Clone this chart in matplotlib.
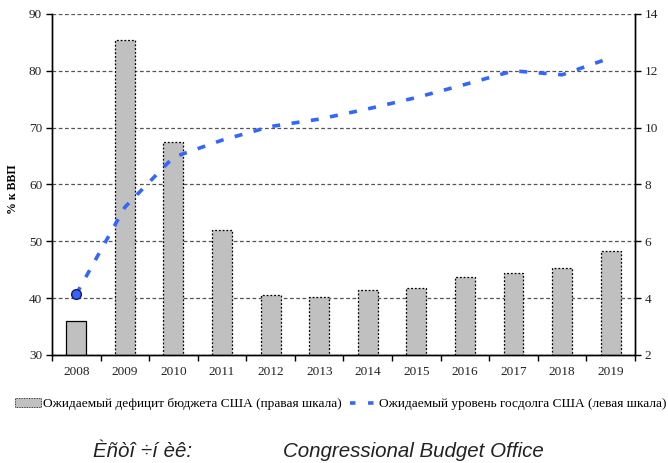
import matplotlib
matplotlib.use("Agg")
import matplotlib.pyplot as plt
from matplotlib.patches import Patch
from matplotlib.lines import Line2D
import numpy as np

years = ["2008", "2009", "2010", "2011", "2012", "2013", "2014", "2015",
         "2016", "2017", "2018", "2019"]
deficit = [3.2, 13.1, 9.5, 6.4, 4.1, 4.05, 4.3, 4.35, 4.75, 4.9, 5.05, 5.65]
debt = [40.7, 56.0, 64.8, 67.8, 70.2, 71.5, 73.3, 75.3, 77.6, 80.0, 79.3, 82.3]

left_ticks = [30, 40, 50, 60, 70, 80, 90]
right_ticks = [2, 4, 6, 8, 10, 12, 14]

serif = "Liberation Serif"
sans = "Liberation Sans"
line_color = "#3366FF"
line_style = (0, (2.2, 3.2))

fig = plt.figure(figsize=(6.68, 4.63), dpi=100)
ax = fig.add_axes([0.0778, 0.2333, 0.8728, 0.7365])
ax2 = ax.twinx()
ax2.set_zorder(ax.get_zorder() - 1)
ax.patch.set_visible(False)

x = np.arange(len(years))
bars = ax2.bar(x, deficit, width=0.41, color="#C0C0C0", edgecolor="black",
               linewidth=0.9, linestyle=(0, (1.5, 1.5)), zorder=2)
bars[0].set_linestyle("-")

ax2.set_ylim(2, 14)
ax2.set_yticks(right_ticks)
ax2.yaxis.grid(True, color="#555555", linestyle=(0, (3, 2)), linewidth=0.9, zorder=0)
ax2.set_axisbelow(True)

ax.plot(x, debt, color=line_color, linewidth=2.6, linestyle=line_style, zorder=3)
ax.plot(x[:1], debt[:1], marker="o", markersize=7, markerfacecolor=line_color,
        markeredgecolor="#1a1a60", linestyle="none", zorder=4)

ax.set_ylim(30, 90)
ax.set_yticks(left_ticks)
ax.set_xlim(-0.5, len(years) - 0.5)
ax.set_xticks(x)
ax.set_xticklabels(years)
ax.set_xticks(np.arange(-0.5, len(years)), minor=True)
ax.tick_params(axis="x", which="major", length=0, pad=8)
ax.tick_params(axis="x", which="minor", length=4, width=1, direction="out")

for a in (ax, ax2):
    a.spines["top"].set_visible(False)
    for s in ("left", "right", "bottom"):
        a.spines[s].set_linewidth(1)
        a.spines[s].set_color("black")
    a.tick_params(axis="y", length=4, width=1, direction="out", pad=3)
    for lab in a.get_yticklabels() + a.get_xticklabels():
        lab.set_fontfamily(serif)
        lab.set_fontsize(9.5)
        lab.set_color("#222222")

ax.set_ylabel("% к ВВП", fontfamily=serif, fontweight="bold", fontsize=8.5)
ax.yaxis.set_label_coords(-0.056, 0.485)

handles = [Patch(facecolor="#C0C0C0", edgecolor="black", linestyle=(0, (1, 1)), linewidth=0.6),
           Line2D([0], [0], color=line_color, linewidth=2.6, linestyle=(0, (1.5, 3.5)))]
labels = ["Ожидаемый дефицит бюджета США (правая шкала)",
          "Ожидаемый уровень госдолга США (левая шкала)"]
fig.legend(handles, labels, loc="center left", bbox_to_anchor=(0.014, 0.127), ncol=2,
           frameon=False, prop={"family": serif, "size": 9.6}, handlelength=2.0,
           handleheight=0.6, handletextpad=0.15, columnspacing=0.6, borderaxespad=0)

fig.text(0.139, 0.013, "Èñòî ÷í èê:", fontfamily=sans, style="italic",
         fontsize=14.8, color="#222222", va="baseline")
fig.text(0.424, 0.013, "Congressional Budget Office", fontfamily=sans,
         style="italic", fontsize=14.8, color="#222222", va="baseline")

fig.savefig("out.png", dpi=100)
